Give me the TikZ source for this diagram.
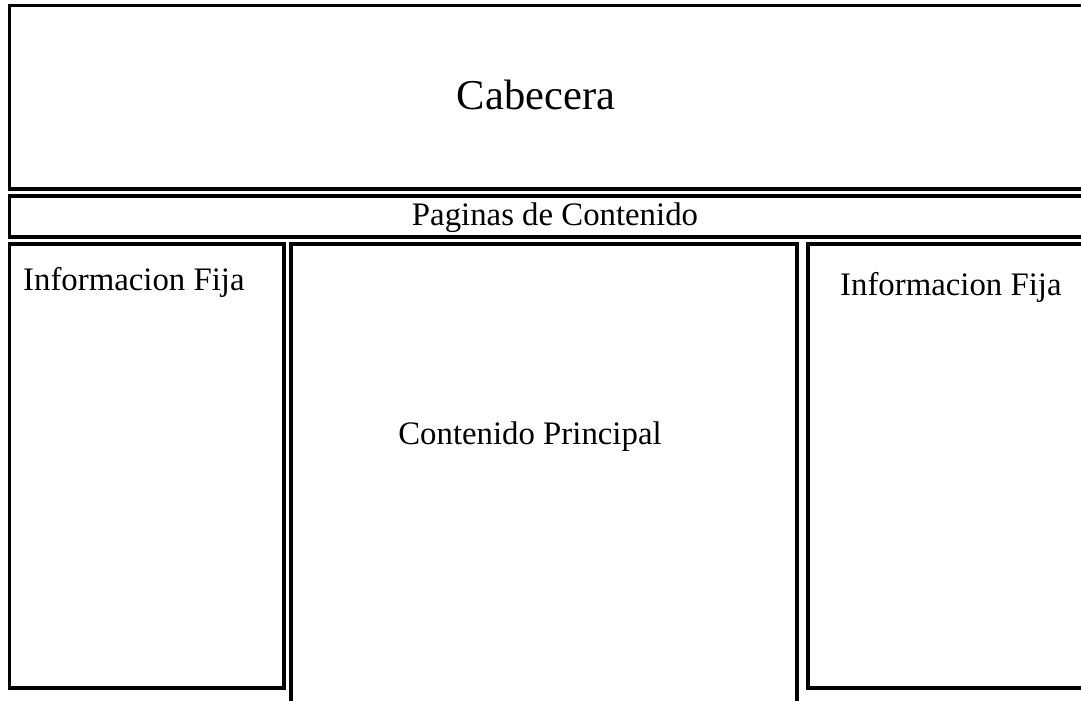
\documentclass[tikz,border=0pt]{standalone}
\usepackage{fontspec}
\setmainfont{Liberation Serif}
\usepackage{tikz}

\tikzset{
  panel/.style={draw=black,line width=3.5pt},
  label/.style={inner sep=0pt,font=\fontsize{32.8}{38}\selectfont}
}

\begin{document}
\begin{tikzpicture}[x=1pt,y=-1pt]
      \clip (0,0) rectangle (1081,701);
      \fill[white] (0,0) rectangle (1081,701);

      \draw[panel] (9.5,5.5) rectangle (1095,189);
      \draw[panel] (9.5,196) rectangle (1095,237);
      \draw[panel] (9.5,244) rectangle (284,688);
      \draw[panel] (291,244) rectangle (797,720);
      \draw[panel] (808,244) rectangle (1095,688);

      \node[label,anchor=base,font=\fontsize{42.5}{48}\selectfont] (cab) at (536,109) {Cabecera};
      \node[label,anchor=base] (pag) at (555,225) {Paginas de Contenido};
      \node[label,anchor=base west] (fijaL) at (23,290) {Informacion Fija};
      \node[label,anchor=base west] (fijaR) at (840,295) {Informacion Fija};
      \node[label,anchor=base] (cont) at (530,444) {Contenido Principal};
    \end{tikzpicture}
\end{document}
